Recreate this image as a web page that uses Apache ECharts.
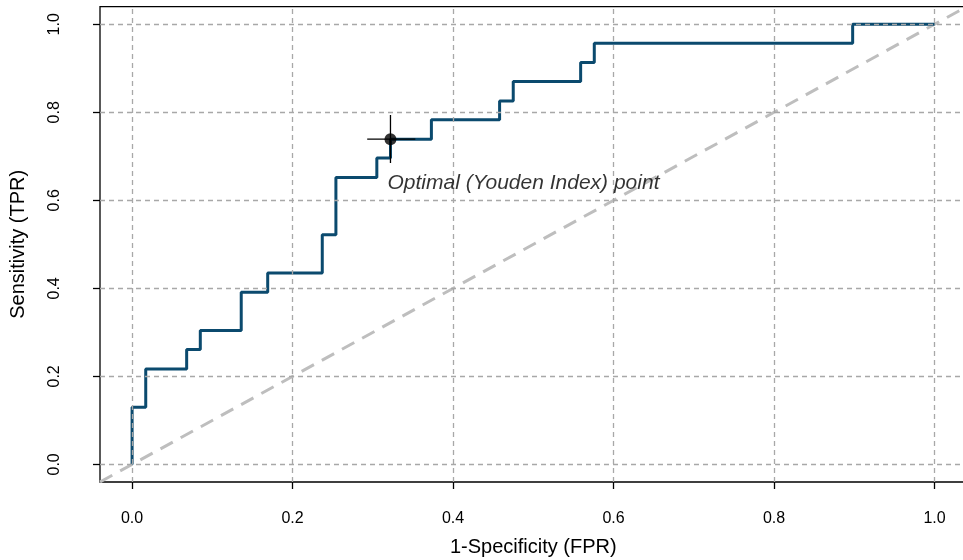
<!DOCTYPE html>
<html>
<head>
<meta charset="utf-8">
<script src="https://cdn.jsdelivr.net/npm/echarts@6/dist/echarts.min.js"></script>
<style>html,body{margin:0;padding:0;background:#fff}#c{width:963px;height:560px}</style>
</head>
<body>
<div id="c"></div>
<script>
// ROC curve vertices (1-Specificity, Sensitivity)
var rocFPR = [0, 0, 0.017, 0.017, 0.068, 0.068, 0.085, 0.085, 0.136, 0.136, 0.169, 0.169, 0.237, 0.237, 0.254, 0.254, 0.305, 0.305, 0.322, 0.322, 0.373, 0.373, 0.458, 0.458, 0.475, 0.475, 0.559, 0.559, 0.576, 0.576, 0.898, 0.898, 1.0];
var rocTPR = [0, 0.130, 0.130, 0.217, 0.217, 0.261, 0.261, 0.304, 0.304, 0.391, 0.391, 0.435, 0.435, 0.522, 0.522, 0.652, 0.652, 0.696, 0.696, 0.739, 0.739, 0.783, 0.783, 0.826, 0.826, 0.870, 0.870, 0.913, 0.913, 0.957, 0.957, 1.0, 1.0];
// Optimal (Youden) point and its confidence ranges
var optPoint = [0.322, 0.739];
var optFPRRange = [0.293, 0.353];
var optTPRRange = [0.685, 0.794];
var optLabel = 'Optimal (Youden Index) point';
// chance diagonal
var diagX = [-0.04, 1.04];
var diagY = [-0.04, 1.04];
// ticks
var xTicks = [0, 0.2, 0.4, 0.6, 0.8, 1.0];
var yTicks = [0, 0.2, 0.4, 0.6, 0.8, 1.0];
var xTitle = '1-Specificity (FPR)';
var yTitle = 'Sensitivity (TPR)';

var FONT = '"Liberation Sans", Arial, sans-serif';
var chart = echarts.init(document.getElementById('c'), null, {renderer: 'canvas'});

var rocData = rocFPR.map(function (x, i) { return [x, rocTPR[i]]; });
var diagData = diagX.map(function (x, i) { return [x, diagY[i]]; });

var gridLines = [];
xTicks.forEach(function (v) { gridLines.push({xAxis: v}); });
yTicks.forEach(function (v) { gridLines.push({yAxis: v}); });

var option = {
  animation: false,
  backgroundColor: '#ffffff',
  grid: {left: 100, top: 6.7, width: 866.6, height: 475.3, show: true, borderColor: '#000', borderWidth: 1.3,
    backgroundColor: 'transparent', containLabel: false, outerBoundsMode: 'none'},
  xAxis: {
    type: 'value', min: -0.04, max: 1.04,
    name: xTitle, nameLocation: 'middle', nameGap: 55,
    nameTextStyle: {fontFamily: FONT, fontSize: 20, color: '#000'},
    axisLine: {show: false, onZero: false},
    axisTick: {show: true, length: 7, customValues: xTicks, lineStyle: {color: '#000', width: 1.3}},
    axisLabel: {customValues: xTicks, margin: 29, fontFamily: FONT, fontSize: 16, color: '#000',
      formatter: function (v) { return v.toFixed(1); }},
    splitLine: {show: false}
  },
  yAxis: {
    type: 'value', min: -0.04, max: 1.04,
    name: yTitle, nameLocation: 'middle', nameGap: 72,
    nameTextStyle: {fontFamily: FONT, fontSize: 20, color: '#000'},
    axisLine: {show: false, onZero: false},
    axisTick: {show: true, length: 7, customValues: yTicks, lineStyle: {color: '#000', width: 1.3}},
    axisLabel: {customValues: yTicks, rotate: 90, margin: 37, fontFamily: FONT, fontSize: 16, color: '#000',
      formatter: function (v) { return v.toFixed(1); }},
    splitLine: {show: false}
  },
  series: [
    {
      type: 'line', data: diagData, symbol: 'none', silent: true, z: 1,
      lineStyle: {color: '#BEBEBE', width: 3, type: [14, 9]}
    },
    {
      type: 'line', data: rocData, symbol: 'none', silent: true, z: 3,
      lineStyle: {color: '#0B4A6E', width: 3},
      markLine: {
        silent: true, symbol: 'none', z: 6, label: {show: false},
        lineStyle: {color: '#A8A8A8', width: 1.3, type: [5, 4]},
        data: gridLines
      }
    },
    {
      type: 'line', data: [[optFPRRange[0], optPoint[1]], [optFPRRange[1], optPoint[1]]], symbol: 'none', z: 7,
      lineStyle: {color: '#000', width: 1.3}
    },
    {
      type: 'line', data: [[optPoint[0], optTPRRange[0]], [optPoint[0], optTPRRange[1]]], symbol: 'none', z: 7,
      lineStyle: {color: '#000', width: 1.3}
    },
    {
      type: 'scatter', data: [optPoint], symbol: 'circle', symbolSize: 12, z: 8,
      itemStyle: {color: '#000'}
    },
    {
      type: 'scatter', data: [optPoint], symbolSize: 0, z: 8,
      label: {show: true, position: [-3, 44], align: 'left', verticalAlign: 'middle',
        formatter: optLabel, fontFamily: FONT, fontSize: 21, fontStyle: 'italic', color: '#000'}
    }
  ]
};
chart.setOption(option);
</script>
</body>
</html>
